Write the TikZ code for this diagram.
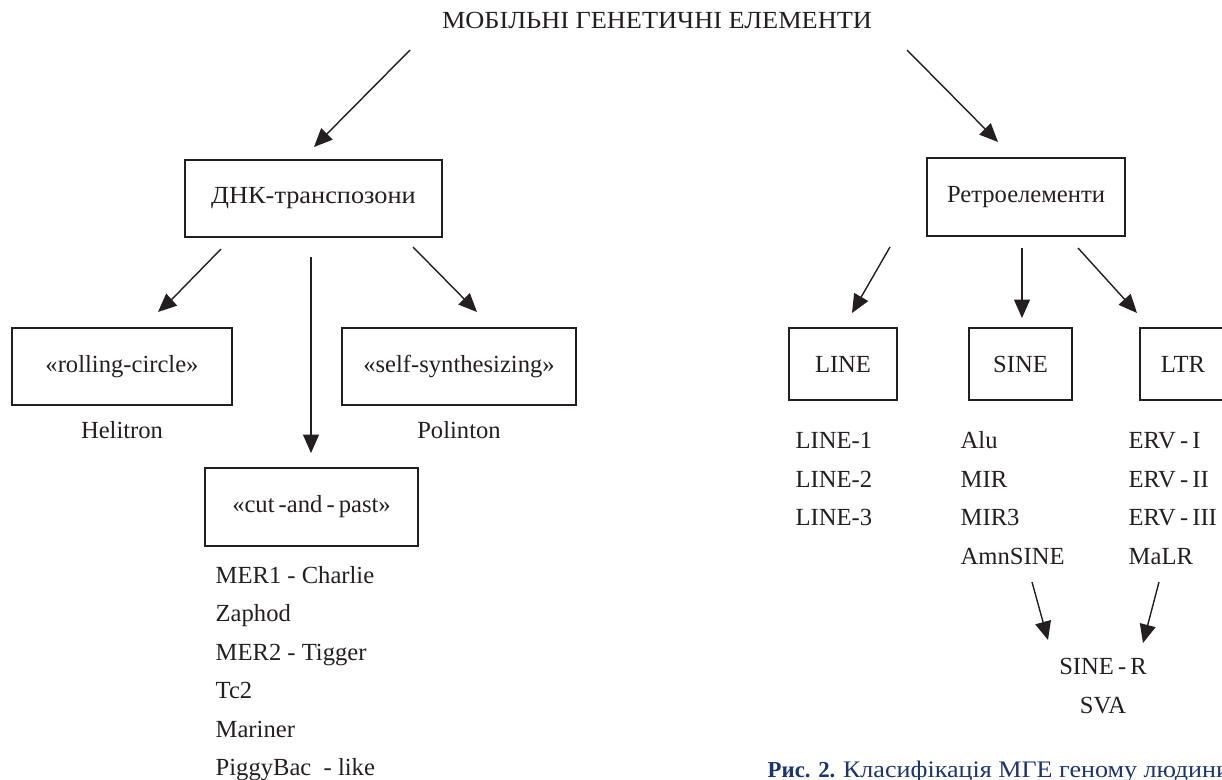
\documentclass[tikz,border=0pt]{standalone}
\usepackage{fontspec}
\setmainfont{Liberation Serif}
\newfontfamily\widecyr[FakeStretch=1.07]{Liberation Serif}
\newfontfamily\capcyr[FakeStretch=1.10]{Liberation Serif}
\usepackage{tikz}
\usetikzlibrary{positioning, arrows.meta}
\definecolor{ink}{RGB}{35,31,32}
\definecolor{capblue}{RGB}{28,52,112}
\tikzstyle{box}=[draw, line width=1pt, minimum height=1.54cm, inner sep=0pt]
\tikzstyle{txt}=[inner sep=0pt, text height=1.6ex, text depth=0.45ex]
\tikzstyle{item}=[txt, anchor=west]

\begin{document}
\begin{tikzpicture}[>={Triangle[length=0.37cm,width=0.32cm]}, line width=0.8pt, draw=ink, text=ink,
    font=\fontsize{14}{16}\selectfont]
      \useasboundingbox (0,0) rectangle (24.44,-15.58);

      \node [txt, font=\fontsize{14}{16}\widecyr] (title) at (13.14,-0.47) {МОБІЛЬНІ ГЕНЕТИЧНІ ЕЛЕМЕНТИ};

      % first level
      \node [box, minimum width=5.14cm, font=\fontsize{14}{16}\widecyr] (dna) at (6.27,-3.97) {ДНК-транспозони};
      \node [box, minimum width=3.96cm, minimum height=1.56cm] (retro) at (20.52,-3.94) {Ретроелементи};

      % DNA transposons
      \node [box, minimum width=4.4cm] (rolling) at (2.44,-7.33) {«rolling-circle»};
      \node [box, minimum width=4.68cm] (selfsyn) at (9.18,-7.33) {«self-synthesizing»};
      \node [box, minimum width=4.26cm, minimum height=1.56cm] (cut) at (6.23,-10.14) {«cut\,-and\,-\,past»};
      \node [txt] (helitron) [below of=rolling, node distance=1.35cm] {Helitron};
      \node [txt] (polinton) [below of=selfsyn, node distance=1.35cm] {Polinton};

      \node [item] (mer1) at (4.30,-11.57) {MER1 - Charlie};
      \node (zaphod) [below=0.77cm of mer1.west, item] {Zaphod};
      \node (mer2) [below=0.77cm of zaphod.west, item] {MER2 - Tigger};
      \node (tc2) [below=0.77cm of mer2.west, item] {Tc2};
      \node (mariner) [below=0.77cm of tc2.west, item] {Mariner};
      \node (piggy) [below=0.77cm of mariner.west, item] {PiggyBac\ \ - like};

      % retroelements
      \node [box, minimum width=2.16cm, minimum height=1.44cm] (line) at (16.86,-7.28) {LINE};
      \node [box, minimum width=2.06cm, minimum height=1.44cm] (sine) at (20.41,-7.28) {SINE};
      \node [box, minimum width=1.72cm, minimum height=1.44cm] (ltr) at (23.66,-7.28) {LTR};

      \node [item] (line1) at (15.90,-8.88) {LINE-1};
      \node (line2) [below=0.77cm of line1.west, item] {LINE-2};
      \node (line3) [below=0.77cm of line2.west, item] {LINE-3};

      \node [item] (alu) at (19.20,-8.88) {Alu};
      \node (mir) [below=0.77cm of alu.west, item] {MIR};
      \node (mir3) [below=0.77cm of mir.west, item] {MIR3};
      \node (amn) [below=0.77cm of mir3.west, item] {AmnSINE};

      \node [item] (erv1) at (22.56,-8.88) {ERV\,-\,I};
      \node (erv2) [below=0.77cm of erv1.west, item] {ERV\,-\,II};
      \node (erv3) [below=0.77cm of erv2.west, item] {ERV\,-\,III};
      \node (malr) [below=0.77cm of erv3.west, item] {MaLR};

      \node [txt] (siner) at (22.06,-13.40) {SINE\,-\,R};
      \node [txt] (sva) [below of=siner, node distance=0.78cm] {SVA};

      \node [anchor=base west, inner sep=0pt, text=capblue, font=\fontsize{13}{15}\selectfont] (caption)
        at (15.34,-15.54) {\textbf{Рис. 2.} {\fontsize{13.5}{15}\capcyr Класифікація МГЕ геному людини}};

      % arrow ends
      \coordinate (tl0) at (8.20,-1.00);   \coordinate (tl1) at (6.28,-2.94);
      \coordinate (tr0) at (18.14,-1.00);  \coordinate (tr1) at (19.96,-2.84);
      \coordinate (dl0) at (4.42,-4.98);   \coordinate (dl1) at (3.16,-6.24);
      \coordinate (dm0) at (6.22,-5.14);   \coordinate (dm1) at (6.22,-9.06);
      \coordinate (dr0) at (8.26,-4.94);   \coordinate (dr1) at (9.54,-6.24);
      \coordinate (rl0) at (17.80,-4.94);  \coordinate (rl1) at (17.04,-6.26);
      \coordinate (rm0) at (20.44,-4.96);  \coordinate (rm1) at (20.44,-6.36);
      \coordinate (rr0) at (21.56,-4.96);  \coordinate (rr1) at (22.74,-6.26);
      \coordinate (sl0) at (20.64,-11.64); \coordinate (sl1) at (20.96,-12.80);
      \coordinate (sr0) at (23.18,-11.64); \coordinate (sr1) at (22.86,-12.86);

      \path[->] (tl0) edge (tl1);
      \path[->] (tr0) edge (tr1);
      \path[->] (dl0) edge (dl1);
      \path[->] (dm0) edge (dm1);
      \path[->] (dr0) edge (dr1);
      \path[->] (rl0) edge (rl1);
      \path[->] (rm0) edge (rm1);
      \path[->] (rr0) edge (rr1);
      \path[->] (sl0) edge (sl1);
      \path[->] (sr0) edge (sr1);
  \end{tikzpicture}
\end{document}
